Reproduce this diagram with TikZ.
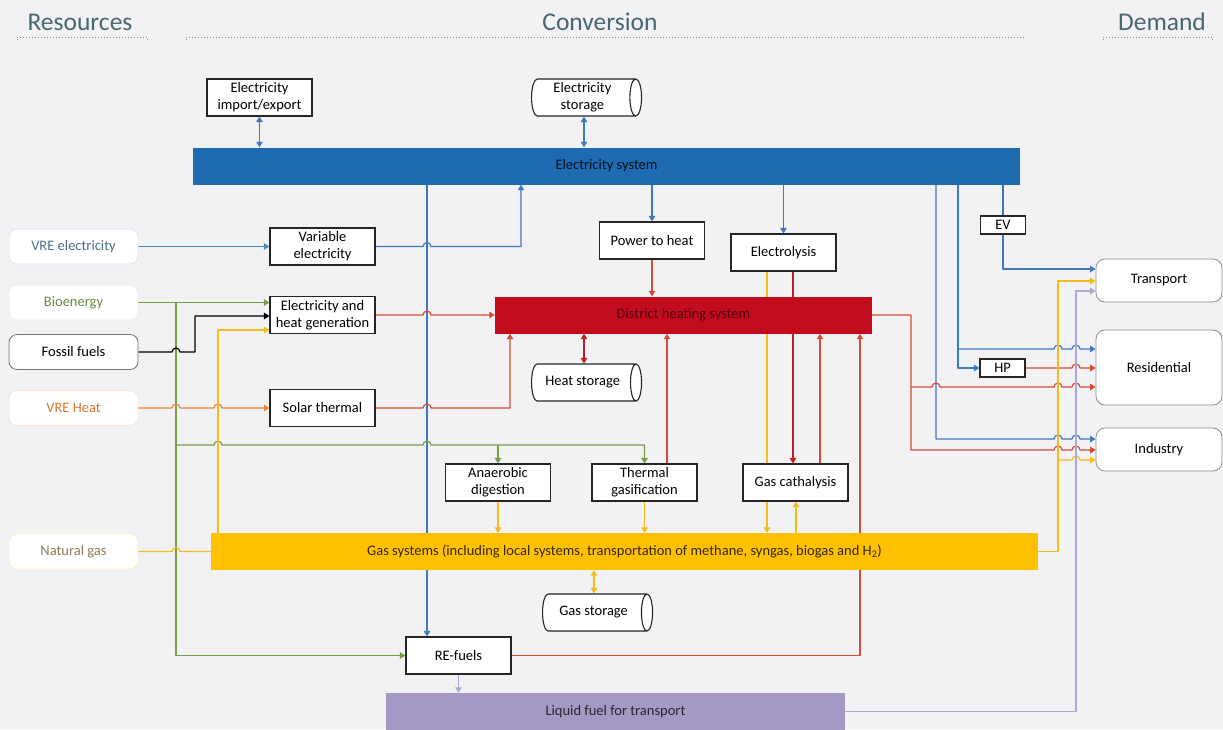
\documentclass[tikz,border=0pt]{standalone}
\usepackage{fontspec}
\setmainfont{Carlito}
\usetikzlibrary{arrows.meta,shapes.geometric}

\definecolor{bgcol}{RGB}{242,242,244}
\definecolor{headtxt}{RGB}{70,104,112}
\definecolor{elblue}{RGB}{31,107,178}
\definecolor{elline}{RGB}{62,122,192}
\definecolor{dhred}{RGB}{192,12,28}
\definecolor{redline}{RGB}{212,76,54}
\definecolor{darkred}{RGB}{190,30,40}
\definecolor{gasyel}{RGB}{255,192,0}
\definecolor{yelline}{RGB}{246,186,30}
\definecolor{liqpur}{RGB}{166,152,196}
\definecolor{purline}{RGB}{172,168,212}
\definecolor{grline}{RGB}{122,156,72}
\definecolor{orline}{RGB}{230,136,52}
\definecolor{vreline}{RGB}{72,140,180}
\definecolor{vretxt}{RGB}{78,110,140}
\definecolor{biotxt}{RGB}{110,138,62}
\definecolor{heattxt}{RGB}{210,122,54}
\definecolor{ngtxt}{RGB}{140,124,86}

\pgfdeclarelayer{bg}
\pgfdeclarelayer{lines}
\pgfsetlayers{bg,lines,main}

% hop over a vertical line at x=#1 on a horizontal line at y=#2
\newcommand{\hop}[2]{-- (#1-4,#2) arc[start angle=180,end angle=360,radius=4]}

\tikzset{
  head/.style={text=headtxt,font=\fontsize{25.5}{28}\selectfont},
  sep/.style={dotted,line width=1pt,draw=black!45},
  box/.style={draw=black!85,line width=1.1pt,fill=white,minimum width=105pt,minimum height=37pt,
    inner sep=1pt,align=center,font=\fontsize{14.5}{17}\selectfont},
  smallbox/.style={box,minimum width=45pt,minimum height=18pt},
  stor/.style={cylinder,draw=black!85,line width=1.1pt,fill=white,minimum width=37pt,minimum height=110pt,
    aspect=0.8,anchor=west,align=center,inner sep=1pt,font=\fontsize{14.5}{17}\selectfont},
  bar/.style={minimum height=37pt,inner sep=0pt,font=\fontsize{14.5}{17}\selectfont},
  resbox/.style 2 args={rounded corners=8pt,fill=white,draw=#1,line width=0.8pt,text=#2,
    minimum width=129pt,minimum height=35pt,font=\fontsize{14.5}{17}\selectfont},
  dembox/.style={rounded corners=9pt,fill=white,draw=black!45,line width=0.8pt,
    minimum width=126pt,font=\fontsize{14.5}{17}\selectfont},
  ln/.style={line width=1.2pt,line join=round}
}

\begin{document}
\begin{tikzpicture}[x=1pt,y=-1pt,>={Triangle[length=5.5pt,width=6.5pt]}]
\useasboundingbox (0,0) rectangle (1223,729);
\begin{pgfonlayer}{bg}
\fill[bgcol] (0,0) rectangle (1223,729);
\end{pgfonlayer}

% headings
\node[head] (hres) at (80,22) {Resources};
\node[head] (hconv) at (600,22) {Conversion};
\node[head] (hdem) at (1162,22) {Demand};
\draw[sep] (17,40) -- (17,37) -- (147,37) -- (147,40);
\draw[sep] (186,40) -- (186,37) -- (1023,37) -- (1023,40);
\draw[sep] (1103,40) -- (1103,37) -- (1212,37) -- (1212,40);

% resources
\node[resbox={vreline!20}{vretxt}] (vreel) at (73.5,246.5) {VRE electricity};
\node[resbox={grline!15}{biotxt}] (bio) at (73.5,302.5) {Bioenergy};
\node[resbox={black!55}{black}] (fos) at (73.5,352) {Fossil fuels};
\node[resbox={orline!20}{heattxt}] (vreh) at (73.5,408) {VRE Heat};
\node[resbox={gasyel!25}{ngtxt}] (ng) at (73.5,551.5) {Natural gas};

% demand
\node[dembox,minimum height=43pt] (tr) at (1159,280.5) {Transport};
\node[dembox,minimum height=75pt] (res) at (1159,367.5) {Residential};
\node[dembox,minimum height=43pt] (ind) at (1159,449.5) {Industry};

% bars
\node[bar,fill=elblue,text=black!85!elblue,minimum width=827pt] (elsys) at (606.5,166) {Electricity system};
\node[bar,fill=dhred,text=black!55!dhred,minimum width=377pt] (dh) at (683.5,315) {District heating system};
\node[bar,fill=gasyel,text=black!80!gasyel,minimum width=827pt] (gas) at (624.5,551.5)
  {Gas systems (including local systems, transportation of methane, syngas, biogas and H\textsubscript{2})};
\node[bar,fill=liqpur,text=black!75!liqpur,minimum width=459pt] (liq) at (615.5,711.5) {Liquid fuel for transport};

% conversion boxes
\node[box] (imex) at (259.5,97.5) {Electricity\\import/export};
\node[stor,aspect=0.37] (estor) at (531,97.5) {Electricity\\storage};
\node[box] (varel) at (322.5,246.5) {Variable\\electricity};
\node[box] (ehg) at (322.5,315) {Electricity and\\heat generation};
\node[box] (solar) at (322.5,408) {Solar thermal};
\node[box] (p2h) at (652,240.5) {Power to heat};
\node[box] (elys) at (783.5,252.5) {Electrolysis};
\node[smallbox] (ev) at (1003,225) {EV};
\node[smallbox] (hp) at (1002.5,368) {HP};
\node[stor] (hstor) at (531,382.5) {Heat storage};
\node[box] (anad) at (498,482.5) {Anaerobic\\digestion};
\node[box] (tgas) at (644.5,482.5) {Thermal\\gasification};
\node[box] (gcat) at (795.5,482.5) {Gas cathalysis};
\node[stor] (gstor) at (542,612.5) {Gas storage};
\node[box] (refuel) at (458.5,655.5) {RE-fuels};

\begin{pgfonlayer}{lines}
% connectors, electricity
\draw[ln,draw=elline,<->] (elsys.north -| imex.south) -- (imex.south);
\draw[ln,draw=elline,<->] (elsys.north -| 584,0) -- (estor.south -| 584,0);
\draw[ln,draw=vreline,->] (vreel) -- (varel);
\draw[ln,draw=elline,->] (varel.east) \hop{427}{246.5} -- (521,246.5) -- (elsys.south -| 521,0);
\draw[ln,draw=elline,->] (elsys.south -| 427,0) -- (refuel.north -| 427,0);
\draw[ln,draw=elline,->] (elsys.south -| p2h.north) -- (p2h.north);
\draw[ln,draw=elline,->] (elsys.south -| elys.north) -- (elys.north);
\draw[ln,draw=elline] (elsys.south -| ev.north) -- (ev.north);
\draw[ln,draw=elline,->] (ev.south) -- (1003,269) -- (tr.west |- 0,269);
\draw[ln,draw=elline,->] (elsys.south -| 958,0) -- (958,368) -- (hp.west);
\draw[ln,draw=elline,->] (958,349) \hop{1058}{349} \hop{1076}{349} -- (res.west |- 0,349);
\draw[ln,draw=elline,->] (elsys.south -| 936,0) -- (936,439) \hop{1058}{439} \hop{1076}{439} -- (ind.west |- 0,439);

% connectors, heat
\draw[ln,draw=redline,->] (ehg.east) \hop{427}{315} -- (dh.west);
\draw[ln,draw=redline,->] (solar.east) \hop{427}{408} -- (510,408) -- (dh.south -| 510,0);
\draw[ln,draw=redline,->] (p2h.south) -- (dh.north -| p2h.south);
\draw[ln,draw=darkred,<->] (dh.south -| 584,0) -- (hstor.north -| 584,0);
\draw[ln,draw=redline,->] (tgas.north -| 667,0) -- (dh.south -| 667,0);
\draw[ln,draw=darkred,->] (elys.south -| 793,0) -- (gcat.north -| 793,0);
\draw[ln,draw=redline,->] (gcat.north -| 820,0) -- (dh.south -| 820,0);
\draw[ln,draw=redline,->] (refuel.east) -- (860,655.5) -- (dh.south -| 860,0);
\draw[ln,draw=redline,->] (dh.east) -- (911,315) -- (911,450) \hop{1058}{450} \hop{1076}{450} -- (ind.west |- 0,450);
\draw[ln,draw=redline,->] (911,387) \hop{936}{387} \hop{1058}{387} \hop{1076}{387} -- (res.west |- 0,387);
\draw[ln,draw=redline,->] (hp.east) \hop{1076}{368} -- (res.west |- 0,368);

% connectors, bio, fossil and gas
\draw[ln,draw=grline,->] (bio.east) -- (ehg.west |- bio.east);
\draw[ln,draw=grline,->] (176,302.5) -- (176,655.5) -- (refuel.west);
\draw[ln,draw=grline,->] (176,445) \hop{218}{445} \hop{427}{445} -- (tgas.north |- 0,445) -- (tgas.north);
\draw[ln,draw=grline,->] (anad.north |- 0,445) -- (anad.north);
\draw[ln,draw=black,->] (fos.east) \hop{176}{352} -- (195,352) -- (195,316) -- (ehg.west |- 0,316);
\draw[ln,draw=orline,->] (vreh.east) \hop{176}{408} \hop{218}{408} -- (solar.west);
\draw[ln,draw=yelline] (ng.east) \hop{176}{551.5} -- (gas.west);
\draw[ln,draw=yelline,->] (gas.north -| 218,0) -- (218,330) -- (ehg.west |- 0,330);
\draw[ln,draw=yelline,->] (elys.south -| 767,0) -- (gas.north -| 767,0);
\draw[ln,draw=yelline,->] (gas.north -| 796,0) -- (gcat.south -| 796,0);
\draw[ln,draw=yelline,->] (anad.south) -- (gas.north -| anad.south);
\draw[ln,draw=yelline,->] (tgas.south) -- (gas.north -| tgas.south);
\draw[ln,draw=yelline,<->] (gas.south -| 594,0) -- (gstor.north -| 594,0);
\draw[ln,draw=yelline,->] (gas.east) -- (1058,551.5) -- (1058,281) -- (tr.west |- 0,281);
\draw[ln,draw=yelline,->] (1058,460) \hop{1076}{460} -- (ind.west |- 0,460);
\draw[ln,draw=purline,->] (refuel.south) -- (liq.north -| refuel.south);
\draw[ln,draw=purline,->] (liq.east) -- (1076,711.5) -- (1076,291) -- (tr.west |- 0,291);
\end{pgfonlayer}
\end{tikzpicture}
\end{document}
